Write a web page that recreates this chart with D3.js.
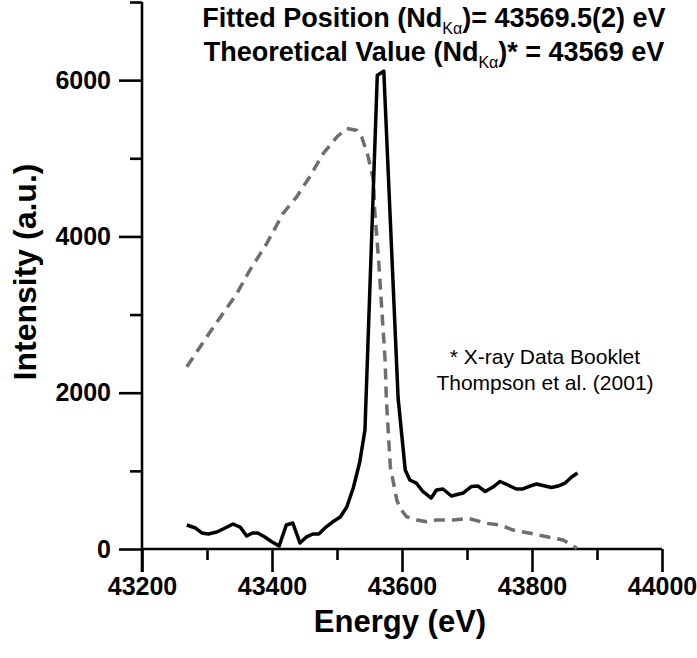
<!DOCTYPE html>
<html>
<head>
<meta charset="utf-8">
<script src="https://cdn.jsdelivr.net/npm/d3@7"></script>
<style>
  html, body { margin: 0; padding: 0; background: #fff; }
  text { font-family: "Liberation Sans", Arial, sans-serif; }
</style>
</head>
<body>
<svg id="chart" width="697" height="658"></svg>
<script>
// ---- data ----
const measEnergy = [43269,43282,43292,43302,43315,43328,43340,43351,43361,43370,43378,43389,43399,43411,43422,43432,43443,43453,43463,43472,43483,43493,43505,43515,43525,43535,43543,43562,43572,43594,43605,43612,43622,43632,43645,43653,43663,43676,43694,43707,43717,43728,43740,43751,43763,43776,43786,43797,43807,43820,43830,43840,43851,43861,43870];
const measIntensity = [307,269,205,192,217,269,320,281,166,205,205,154,96,38,307,333,77,154,192,192,281,345,409,537,780,1113,1522,6064,6115,1932,1011,883,844,736,652,755,768,678,716,800,806,736,793,864,819,768,768,806,832,806,787,806,844,921,972];

const refEnergy = [43269,43305,43346,43366,43392,43417,43438,43458,43479,43500,43515,43530,43538,43548,43556,43558,43564,43569,43574,43576,43582,43592,43597,43607,43623,43638,43653,43679,43702,43730,43751,43771,43797,43823,43848,43869];
const refIntensity = [2332,2780,3271,3569,3911,4295,4507,4763,5062,5275,5382,5360,5275,5019,4721,4337,3697,3057,2418,1906,1053,627,521,413,371,349,371,371,393,329,307,243,201,157,115,9];

const xMajorTicks = [43200,43400,43600,43800,44000];
const xMinorTicks = [43300,43500,43700,43900];
const yMajorTicks = [0,2000,4000,6000];
const yMinorTicks = [1000,3000,5000,7000];

const svg = d3.select("#chart");
const x = d3.scaleLinear().domain([43200, 44000]).range([142, 662]);
const y = d3.scaleLinear().domain([0, 7000]).range([549, 2]);

const axisW = 2.6;

// minor ticks
svg.append("g").attr("transform", "translate(0,549)")
  .call(d3.axisBottom(x).tickValues(xMinorTicks).tickSize(11).tickFormat(""))
  .call(g => { g.select(".domain").remove(); g.selectAll("line").attr("stroke", "#000").attr("stroke-width", axisW); });
svg.append("g").attr("transform", "translate(142,0)")
  .call(d3.axisLeft(y).tickValues(yMinorTicks).tickSize(12).tickFormat(""))
  .call(g => { g.select(".domain").remove(); g.selectAll("line").attr("stroke", "#000").attr("stroke-width", axisW); });

// major ticks with labels
svg.append("g").attr("transform", "translate(0,549)")
  .call(d3.axisBottom(x).tickValues(xMajorTicks).tickSize(23).tickPadding(5).tickFormat(d3.format("d")))
  .call(g => {
    g.select(".domain").remove();
    g.selectAll("line").attr("stroke", "#000").attr("stroke-width", axisW);
    g.selectAll("text").attr("fill", "#000").attr("font-size", 25).attr("font-weight", "bold")
      .attr("font-family", "Liberation Sans, Arial, sans-serif");
  });
svg.append("g").attr("transform", "translate(142,0)")
  .call(d3.axisLeft(y).tickValues(yMajorTicks).tickSize(23).tickPadding(8).tickFormat(d3.format("d")))
  .call(g => {
    g.select(".domain").remove();
    g.selectAll("line").attr("stroke", "#000").attr("stroke-width", axisW);
    g.selectAll("text").attr("fill", "#000").attr("font-size", 25).attr("font-weight", "bold")
      .attr("font-family", "Liberation Sans, Arial, sans-serif");
  });

// axis lines
svg.append("line").attr("x1", x(43200)).attr("x2", x(44000)).attr("y1", y(0)).attr("y2", y(0))
  .attr("stroke", "#000").attr("stroke-width", axisW);
svg.append("line").attr("x1", x(43200)).attr("x2", x(43200)).attr("y1", y(7000)).attr("y2", y(0) + 23)
  .attr("stroke", "#000").attr("stroke-width", axisW);

// series
const refData = refEnergy.map((e, i) => [e, refIntensity[i]]);
const measData = measEnergy.map((e, i) => [e, measIntensity[i]]);
const line = d3.line().x(d => x(d[0])).y(d => y(d[1]));

svg.append("path").datum(refData).attr("d", line)
  .attr("fill", "none").attr("stroke", "#6e6e6e").attr("stroke-width", 3.5)
  .attr("stroke-dasharray", "11,7").attr("stroke-linejoin", "round");
svg.append("path").datum(measData).attr("d", line)
  .attr("fill", "none").attr("stroke", "#000").attr("stroke-width", 3.5)
  .attr("stroke-linejoin", "round");

// axis titles
svg.append("text").attr("x", 400).attr("y", 632).attr("text-anchor", "middle")
  .attr("font-size", 31).attr("font-weight", "bold").text("Energy (eV)");
svg.append("text").attr("transform", "translate(36,272) rotate(-90)").attr("text-anchor", "middle")
  .attr("font-size", 32).attr("font-weight", "bold").text("Intensity (a.u.)");

// header text with subscripts
function header(yPos, pre, post) {
  const t = svg.append("text").attr("x", 434).attr("y", yPos).attr("text-anchor", "middle")
    .attr("font-size", 27).attr("font-weight", "bold");
  t.append("tspan").text(pre);
  t.append("tspan").attr("dy", 7).attr("font-size", 16).attr("font-weight", "normal").text("Kα");
  t.append("tspan").attr("dy", -7).text(post);
}
header(27, "Fitted Position (Nd", ")= 43569.5(2) eV");
header(61, "Theoretical Value (Nd", ")* = 43569 eV");

// reference note
svg.append("text").attr("x", 545).attr("y", 364).attr("text-anchor", "middle")
  .attr("font-size", 21).text("* X-ray Data Booklet");
svg.append("text").attr("x", 545).attr("y", 390).attr("text-anchor", "middle")
  .attr("font-size", 21).text("Thompson et al. (2001)");
</script>
</body>
</html>
